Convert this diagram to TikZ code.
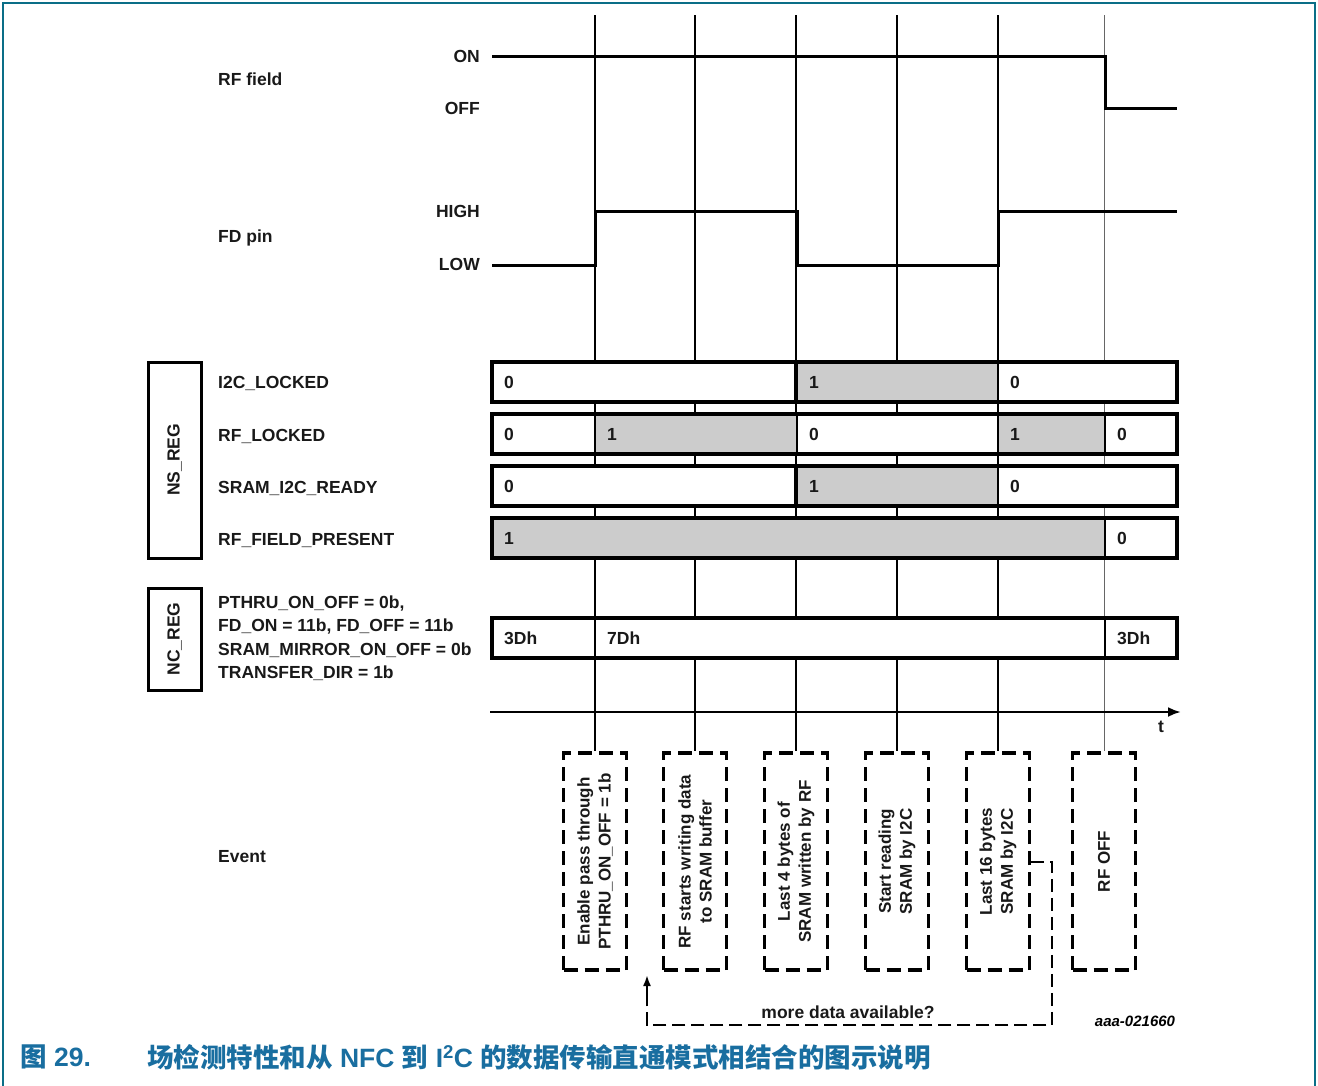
\documentclass[tikz,border=0pt]{standalone}
\usepackage{fontspec}
\setmainfont{Liberation Sans}
\newfontfamily\cjk{Noto Sans CJK SC}
\usetikzlibrary{arrows.meta}
\definecolor{framec}{RGB}{10,110,135}
\definecolor{capc}{RGB}{25,110,160}
\definecolor{regfill}{RGB}{204,204,204}
\tikzset{
  lbl/.style={font=\fontsize{17.5}{21}\selectfont\bfseries, inner sep=0pt, text=black!90},
  segbox/.style={draw, line width=2pt, minimum height=40pt, inner sep=0pt},
  rowbox/.style={draw, line width=4pt, minimum height=40pt, minimum width=685pt, inner sep=0pt},
  regbox/.style={draw, line width=3pt, minimum width=53pt, inner sep=0pt},
  evbox/.style={draw, line width=3.5pt, dash pattern=on 14pt off 7pt, minimum width=63pt, minimum height=217pt, inner sep=0pt},
  evtext/.style={lbl, rotate=90, align=center, font=\fontsize{17}{21}\selectfont\bfseries},
  sig/.style={line width=3pt, line join=miter},
  vline/.style={line width=1.4pt},
  loopline/.style={line width=2pt, dash pattern=on 13pt off 6pt},
}
\newcommand\regseg[6]{%
  \node[segbox, fill=#5, minimum width={(#3-#2)*1pt}] (#1) at ({(#2+#3)/2},#4) {};
  \node[lbl, anchor=west] (#1t) at (#2+12,#4) {#6};
}
\begin{document}
\begin{tikzpicture}[x=1pt,y=-1pt]
\useasboundingbox (0,0) rectangle (1318,1085);
% frame
\draw[framec, line width=2.5pt] (3,1090) -- (3,3) -- (1315,3) -- (1315,1090);

% event boxes
\node[evbox] (e1) at (595,861.5) {};
\node[evbox] (e2) at (695,861.5) {};
\node[evbox] (e3) at (796,861.5) {};
\node[evbox] (e4) at (897,861.5) {};
\node[evbox] (e5) at (998,861.5) {};
\node[evbox] (e6) at (1104,861.5) {};
\node[evtext] (e1t) at (e1.center) {Enable pass through\\PTHRU\_ON\_OFF = 1b};
\node[evtext] (e2t) at (e2.center) {RF starts writing data\\to SRAM buffer};
\node[evtext] (e3t) at (e3.center) {Last 4 bytes of\\SRAM written by RF};
\node[evtext] (e4t) at (e4.center) {Start reading\\SRAM by I2C};
\node[evtext] (e5t) at (e5.center) {Last 16 bytes\\SRAM by I2C};
\node[evtext] (e6t) at (e6.center) {RF OFF};

% vertical event lines
\coordinate (top) at (0,15);
\draw[vline, line width=1.5pt] (e1.north |- top) -- (e1.north);
\draw[vline, line width=1.6pt] (e2.north |- top) -- (e2.north);
\draw[vline, line width=2pt] (e3.north |- top) -- (e3.north);
\draw[vline, line width=2pt] (e4.north |- top) -- (e4.north);
\draw[vline, line width=1.4pt] (e5.north |- top) -- (e5.north);
\draw[vline, line width=0.9pt, black!60] (e6.north |- top) -- (e6.north);

% signal labels
\node[lbl, anchor=west] (rfl) at (218,79) {RF field};
\node[lbl, anchor=west] (fdl) at (218,238) {FD pin};
\node[lbl, anchor=east] (on) at (480,56) {ON};
\node[lbl, anchor=east] (off) at (480,108) {OFF};
\node[lbl, anchor=east] (high) at (480,211) {HIGH};
\node[lbl, anchor=east] (low) at (480,264) {LOW};

% waveforms
\coordinate (rfs) at (492,56);
\coordinate (rfe) at (1177,108);
\draw[sig] (rfs) -- (1105,56) -- (1105,108) -- (rfe);
\coordinate (fds) at (492,265);
\coordinate (fde) at (1177,211);
\draw[sig] (fds) -- (595,265) -- (595,211) -- (797,211) -- (797,265) -- (998,265) -- (998,211) -- (fde);

% NS_REG
\node[regbox, minimum height=196pt] (ns) at (174.5,460) {};
\node[lbl, rotate=90] (nst) at (ns.center) {NS\_REG};
\node[lbl, anchor=west] (l1) at (218,383) {I2C\_LOCKED};
\node[lbl, anchor=west] (l2) at (218,436) {RF\_LOCKED};
\node[lbl, anchor=west] (l3) at (218,488) {SRAM\_I2C\_READY};
\node[lbl, anchor=west] (l4) at (218,540) {RF\_FIELD\_PRESENT};

% row 1
\regseg{r1a}{492}{797}{382}{white}{0}
\regseg{r1b}{797}{998}{382}{regfill}{1}
\regseg{r1c}{998}{1177}{382}{white}{0}
\node[rowbox] (row1) at (834.5,382) {};
\draw[line width=4pt] (r1b.north west) -- (r1b.south west);
% row 2
\regseg{r2a}{492}{595}{434}{white}{0}
\regseg{r2b}{595}{797}{434}{regfill}{1}
\regseg{r2c}{797}{998}{434}{white}{0}
\regseg{r2d}{998}{1105}{434}{regfill}{1}
\regseg{r2e}{1105}{1177}{434}{white}{0}
\node[rowbox] (row2) at (834.5,434) {};
% row 3
\regseg{r3a}{492}{797}{486}{white}{0}
\regseg{r3b}{797}{998}{486}{regfill}{1}
\regseg{r3c}{998}{1177}{486}{white}{0}
\node[rowbox] (row3) at (834.5,486) {};
\draw[line width=4pt] (r3b.north west) -- (r3b.south west);
% row 4
\regseg{r4a}{492}{1105}{538}{regfill}{1}
\regseg{r4b}{1105}{1177}{538}{white}{0}
\node[rowbox] (row4) at (834.5,538) {};

% NC_REG
\node[regbox, minimum height=102pt] (nc) at (174.5,639) {};
\node[lbl, rotate=90] (nct) at (nc.center) {NC\_REG};
\node[lbl, anchor=west, align=left, font=\fontsize{17.5}{23.5}\selectfont\bfseries] (ncl) at (218,638)
  {PTHRU\_ON\_OFF = 0b,\\FD\_ON = 11b, FD\_OFF = 11b\\SRAM\_MIRROR\_ON\_OFF = 0b\\TRANSFER\_DIR = 1b};
\regseg{r5a}{492}{595}{638}{white}{3Dh}
\regseg{r5b}{595}{1105}{638}{white}{7Dh}
\regseg{r5c}{1105}{1177}{638}{white}{3Dh}
\node[rowbox] (row5) at (834.5,638) {};

% time axis
\coordinate (ts) at (490,712);
\coordinate (te) at (1181,712);
\draw[line width=2.5pt, -{Latex[length=13pt,width=10pt]}] (ts) -- (te);
\node[lbl] (t) at (1161,727) {t};

% event label
\node[lbl, anchor=west] (ev) at (218,857) {Event};

% loop connector
\coordinate (lpa) at (1052,1025);
\coordinate (lpb) at (647,1025);
\coordinate (lpc) at (647,975);
\draw[loopline] (e5.east) -- (e5.east -| lpa) -- (lpa) -- (lpb) -- (647,990);
\draw[line width=2pt, -{Latex[length=11pt,width=8pt]}] (647,995) -- (lpc);
\node[lbl] (more) at (848,1012) {more data available?};

\node[font=\fontsize{15}{18}\selectfont\bfseries\itshape, inner sep=0pt] (id) at (1135,1021) {aaa-021660};

% caption
\node[anchor=west, inner sep=0pt, text=capc, font=\fontsize{26.5}{30}\selectfont\bfseries] (capa) at (20,1057) {{\cjk 图} 29.};
\node[anchor=west, inner sep=0pt, text=capc, font=\fontsize{26.5}{30}\selectfont\bfseries] (capb) at (147,1057)
  {{\cjk 场检测特性和从} NFC {\cjk 到} I\textsuperscript{2}C {\cjk 的数据传输直通模式相结合的图示说明}};
\end{tikzpicture}
\end{document}
